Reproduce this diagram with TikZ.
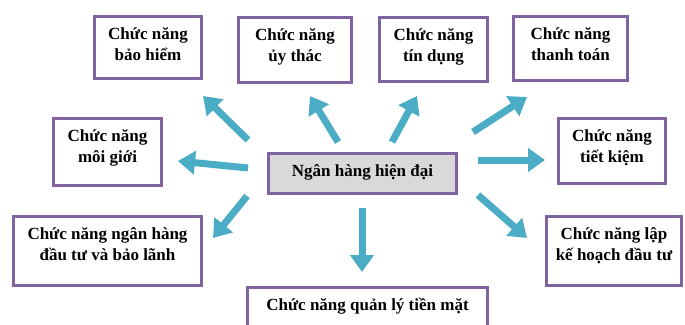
\documentclass[tikz,border=0pt]{standalone}
\usepackage{fontspec}
\setmainfont{Liberation Serif}
\usetikzlibrary{arrows.meta}
\definecolor{boxline}{HTML}{8064A2}
\definecolor{arrowc}{HTML}{4BACC6}
\definecolor{centerfill}{HTML}{D9D9D9}
\begin{document}
\begin{tikzpicture}[x=1pt,y=-1pt,
  box/.style={draw=boxline, line width=3pt, fill=white, rectangle, inner sep=0pt, outer sep=0pt},
  lbl/.style={font=\fontsize{17}{21}\selectfont\bfseries, align=center, inner sep=0pt, anchor=north, text=black},
  arr/.style={draw=arrowc, line width=7pt, -{Triangle[width=23pt,length=17pt]}}]
\useasboundingbox (0,0) rectangle (685,324);
% boxes
\node[box, minimum width=107pt, minimum height=62pt] (b1) at (148,47.5) {};
\node[box, minimum width=113pt, minimum height=65pt] (b2) at (295,50) {};
\node[box, minimum width=108pt, minimum height=64pt] (b3) at (433.5,49.5) {};
\node[box, minimum width=114pt, minimum height=64pt] (b4) at (570.5,48.5) {};
\node[box, minimum width=108pt, minimum height=67pt] (b5) at (107.5,152) {};
\node[box, minimum width=188pt, minimum height=69pt] (b6) at (107.5,251) {};
\node[box, fill=centerfill, minimum width=188pt, minimum height=40pt] (c) at (362.5,173.5) {};
\node[box, minimum width=240pt, minimum height=51pt] (b8) at (367.5,313) {};
\node[box, minimum width=107pt, minimum height=65pt] (b9) at (612,151) {};
\node[box, minimum width=135pt, minimum height=69pt] (b10) at (614,251) {};
% texts
\node[lbl] (t1) at ([yshift=-11pt]b1.north) {Chức năng\\bảo hiểm};
\node[lbl] (t2) at ([yshift=-11pt]b2.north) {Chức năng\\ủy thác};
\node[lbl] (t3) at ([yshift=-11pt]b3.north) {Chức năng\\tín dụng};
\node[lbl] (t4) at ([yshift=-11pt]b4.north) {Chức năng\\thanh toán};
\node[lbl] (t5) at ([yshift=-11pt]b5.north) {Chức năng\\môi giới};
\node[lbl] (t6) at ([yshift=-11pt]b6.north) {Chức năng ngân hàng\\đầu tư và bảo lãnh};
\node[lbl] (t7) at ([yshift=-11pt]c.north) {Ngân hàng hiện đại};
\node[lbl] (t8) at ([yshift=-10pt]b8.north) {Chức năng quản lý tiền mặt};
\node[lbl] (t9) at ([yshift=-11pt]b9.north) {Chức năng\\tiết kiệm};
\node[lbl] (t10) at ([yshift=-11pt]b10.north) {Chức năng lập\\kế hoạch đầu tư};
% arrow end points
\coordinate (s1) at (248,140); \coordinate (e1) at (203,96);
\coordinate (s2) at (338,142); \coordinate (e2) at (310,96);
\coordinate (s3) at (392,142); \coordinate (e3) at (417,96);
\coordinate (s4) at (473,132); \coordinate (e4) at (527,97);
\coordinate (s5) at (248,168); \coordinate (e5) at (178,161);
\coordinate (s6) at (247,196); \coordinate (e6) at (213,238);
\coordinate (s8) at (362,208); \coordinate (e8) at (362,272);
\coordinate (s9) at (478,160); \coordinate (e9) at (545,160);
\coordinate (s10) at (478,195); \coordinate (e10) at (527,238);
\foreach \i in {1,2,3,4,5,6,8,9,10} {\draw[arr] (s\i) -- (e\i);}
\end{tikzpicture}
\end{document}
